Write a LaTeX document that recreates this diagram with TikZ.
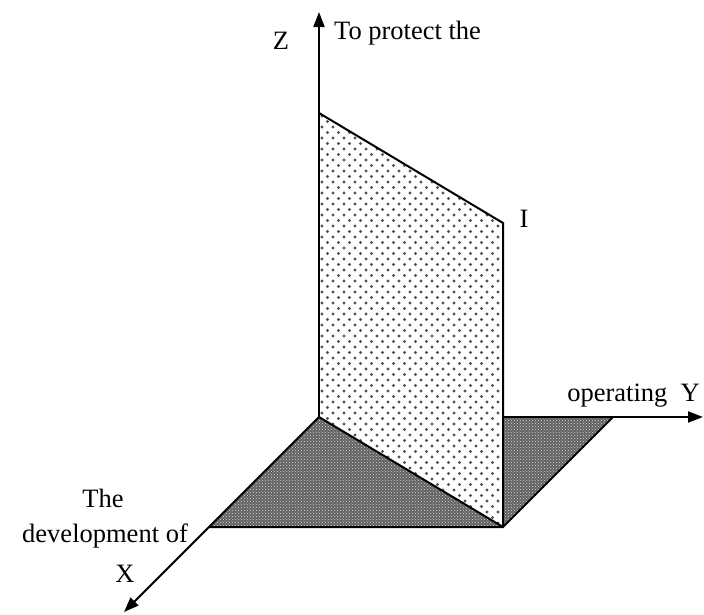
\documentclass[tikz,border=0pt]{standalone}
\usepackage{fontspec}
\setmainfont{Liberation Serif}
\usetikzlibrary{arrows.meta,patterns}
\begin{document}
\begin{tikzpicture}[x=1pt,y=-1pt,
  axis/.style={line width=2pt, -{Triangle[length=15pt,width=11pt]}},
  edgeline/.style={line width=2pt, line join=miter},
  lbl/.style={font=\fontsize{26.5}{30}\selectfont, inner sep=0pt}]
\useasboundingbox (0,0) rectangle (704,614);

% key points of the axes, the floor and the upright plane
\coordinate (O)  at (319,417);
\coordinate (Zt) at (319,12);
\coordinate (Yt) at (703,417);
\coordinate (Xt) at (124,612);
\coordinate (Fa) at (209,527);
\coordinate (Fb) at (503,527);
\coordinate (Fy) at (613,417);
\coordinate (Pt) at (319,113);
\coordinate (Pr) at (503,223);

% shaded floor
\fill[black!62] (O) -- (Fy) -- (Fb) -- (Fa) -- cycle;
\fill[pattern=crosshatch dots, pattern color=white!85!black] (O) -- (Fy) -- (Fb) -- (Fa) -- cycle;

% Y axis lies behind the upright plane
\draw[axis] (O) -- (Yt);

% upright plane: white with staggered dots
\fill[white] (O) -- (Pt) -- (Pr) -- (Fb) -- cycle;
\begin{scope}
  \clip (O) -- (Pt) -- (Pr) -- (Fb) -- cycle;
  \foreach \i in {0,...,76} {
    \foreach \j in {0,...,17} {
      \fill[black!68] ({322+11*\j+5.5*mod(\i,2)},{116+5.5*\i}) circle (1.6);
    }
  }
\end{scope}

% outlines
\draw[edgeline] (Pt) -- (Pr) -- (Fb);
\draw[edgeline] (O) -- (Fb);
\draw[edgeline] (Fa) -- (Fb) -- (Fy);

% remaining axes
\draw[axis] (O) -- (Zt);
\draw[axis] (O) -- (Xt);

% labels
\node[lbl] (zlab) at (281,41) {Z};
\node[lbl, anchor=base west] (ztext) at (334,39) {To protect the};
\node[lbl, anchor=base] (ilab) at (524,227) {I};
\node[lbl, anchor=base east] (ylab) at (700,401) {operating~~Y};
\node[lbl, anchor=base] (xtop) at (103,507) {The};
\node[lbl, anchor=base east] (xtext) at (188,542) {development of};
\node[lbl, anchor=base] (xlab) at (125,582) {X};
\end{tikzpicture}
\end{document}
